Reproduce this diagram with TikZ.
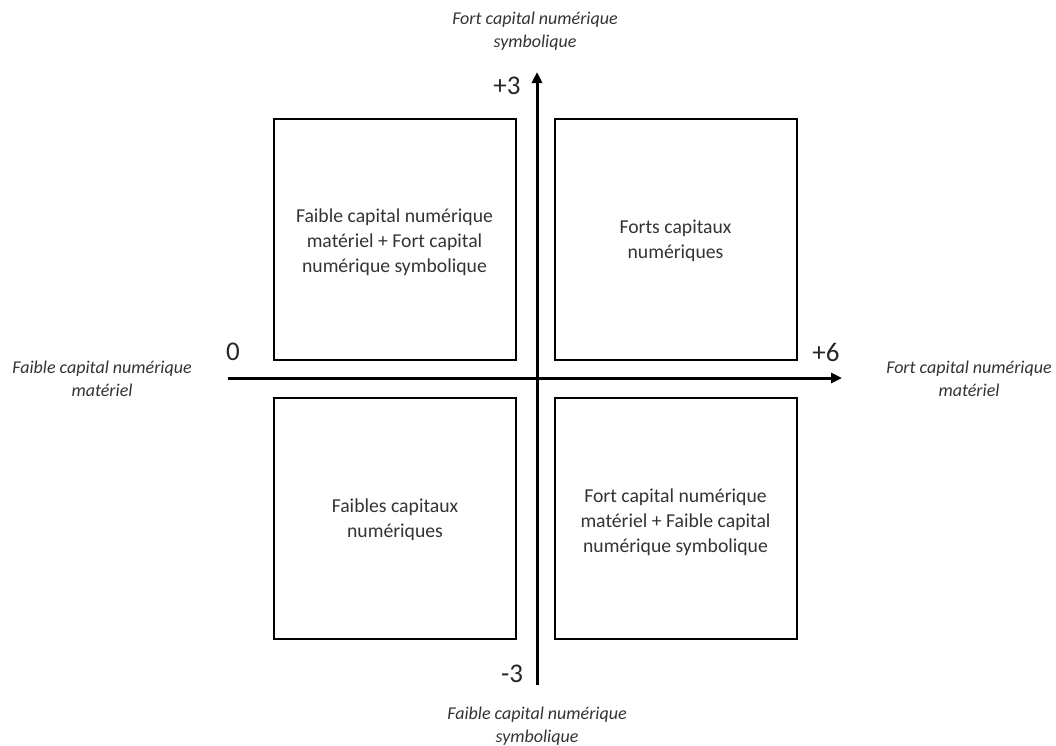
\documentclass[tikz,border=0pt]{standalone}
\usepackage{fontspec}
\setmainfont{Carlito}
\usetikzlibrary{arrows.meta}
\begin{document}
\begin{tikzpicture}[x=1pt,y=-1pt,
  quad/.style={draw=black,line width=2pt,minimum width=242pt,minimum height=241pt,inner sep=0pt},
  quadtxt/.style={align=center,font=\fontsize{19.7}{25}\selectfont,text=black!80},
  axislbl/.style={align=center,font=\fontsize{18}{23}\selectfont\itshape,text=black!80},
  numlbl/.style={font=\fontsize{27}{30}\selectfont,text=black!85},
  axisline/.style={line width=3pt,-{Triangle[length=11pt,width=10pt]}}]
\useasboundingbox (0,0) rectangle (1056,745);
% boxes
\node[quad] (tl) at (394.5,239) {};
\node[quad] (tr) at (675.5,239) {};
\node[quad] (bl) at (395,518) {};
\node[quad] (br) at (675.5,518) {};
\node[quadtxt] (tlt) at (394.5,242) {Faible capital numérique\\matériel + Fort capital\\numérique symbolique};
\node[quadtxt] (trt) at (675.5,241) {Forts capitaux\\numériques};
\node[quadtxt] (blt) at (395,520) {Faibles capitaux\\numériques};
\node[quadtxt] (brt) at (675.5,522) {Fort capital numérique\\matériel + Faible capital\\numérique symbolique};
% axes
\coordinate (vbot) at (537,685);
\coordinate (vtop) at (537,72);
\coordinate (hl) at (228,378);
\coordinate (hr) at (842,378);
\draw[axisline] (vbot) -- (vtop);
\draw[axisline] (hl) -- (hr);
% numbers
\node[numlbl] (p3) at (507,86) {+3};
\node[numlbl] (m3) at (512,674) {-3};
\node[numlbl] (z) at (233,352) {0};
\node[numlbl] (p6) at (826,352) {+6};
% axis labels
\node[axislbl] (top) at (535,31) {Fort capital numérique\\symbolique};
\node[axislbl] (bot) at (537,726) {Faible capital numérique\\symbolique};
\node[axislbl] (left) at (102,379) {Faible capital numérique\\matériel};
\node[axislbl] (right) at (969,379) {Fort capital numérique\\matériel};
\end{tikzpicture}
\end{document}
